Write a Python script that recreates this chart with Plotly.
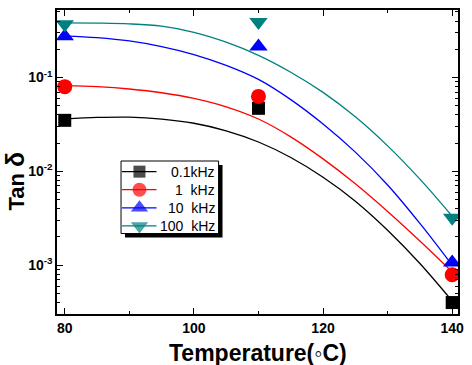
import plotly.graph_objects as go

# ---- data ----
temps = [80, 110, 140]
tan_01k = [0.035, 0.047, 0.00040]
tan_1k = [0.080, 0.063, 0.00079]
tan_10k = [0.275, 0.214, 0.00107]
tan_100k = [0.37, 0.39, 0.0032]

# fitted curves (log10 tan delta) sampled every 5 degC
curve_t = [80, 85, 90, 95, 100, 105, 110, 115, 120, 125, 130, 135, 140]
curve_01k = [-1.44, -1.425, -1.422, -1.442, -1.487, -1.567, -1.687, -1.852, -2.062, -2.317, -2.627, -2.982, -3.382]
curve_1k = [-1.085, -1.097, -1.122, -1.162, -1.222, -1.312, -1.442, -1.632, -1.867, -2.132, -2.427, -2.742, -3.072]
curve_10k = [-0.555, -0.575, -0.61, -0.67, -0.755, -0.87, -1.02, -1.235, -1.495, -1.795, -2.145, -2.555, -3.00]
curve_100k = [-0.418, -0.42, -0.428, -0.453, -0.518, -0.623, -0.763, -0.943, -1.158, -1.418, -1.728, -2.083, -2.478]

labels = ["0.1kHz", "1\u00a0\u00a0kHz", "10\u00a0\u00a0kHz", "100\u00a0\u00a0kHz"]
x_ticks = [80, 100, 120, 140]
y_ticks = [1e-3, 1e-2, 1e-1]
y_ticktext = ["10<sup>-3</sup>", "10<sup>-2</sup>", "10<sup>-1</sup>"]

colors = ["#000000", "#ff0000", "#0000ff", "#008080"]
symbols = ["square", "circle", "triangle-up", "triangle-down"]
msizes = [13, 15, 16, 16]
leg_msizes = [12, 14, 15, 15]

series = [tan_01k, tan_1k, tan_10k, tan_100k]
curves = [curve_01k, curve_1k, curve_10k, curve_100k]

W, H = 472, 365
ML, MR, MT, MB = 57, 8, 8, 51
PW, PH = W - ML - MR, H - MT - MB


def px(xp):
    return (xp - ML) / PW


def py(yp):
    return (H - MB - yp) / PH


font_family = "Liberation Sans, Arial, sans-serif"

fig = go.Figure()
for col, sym, ms, ys, cv in zip(colors, symbols, msizes, series, curves):
    fig.add_trace(go.Scatter(
        x=curve_t, y=[10 ** v for v in cv], mode="lines",
        line=dict(color=col, width=1.3, shape="spline", smoothing=1),
        showlegend=False, hoverinfo="skip"))
    fig.add_trace(go.Scatter(
        x=temps, y=ys, mode="markers",
        marker=dict(symbol=sym, size=ms, color=col, line=dict(width=0)),
        showlegend=False))

# ---- hand-made legend (box with drop shadow) ----
box_l, box_r, box_t, box_b = 122, 221, 160, 233
row_y0, row_dy = 170.7, 18.2
line_l, line_r, mark_x, text_r = 123, 158, 140.7, 219

shapes = [
    dict(type="rect", xref="paper", yref="paper", layer="below",
         x0=px(box_l + 4), x1=px(box_r + 4), y0=py(box_b + 4), y1=py(box_t + 4),
         fillcolor="black", line=dict(width=0)),
    dict(type="rect", xref="paper", yref="paper", layer="below",
         x0=px(box_l), x1=px(box_r), y0=py(box_b), y1=py(box_t),
         fillcolor="white", line=dict(color="black", width=1)),
]
annotations = []
for i, (lab, col, sym, ms) in enumerate(zip(labels, colors, symbols, leg_msizes)):
    yy = py(row_y0 + i * row_dy)
    fig.add_trace(go.Scatter(
        x=[px(line_l), px(mark_x), px(line_r)], y=[yy, yy, yy],
        xaxis="x2", yaxis="y2", mode="lines+markers",
        line=dict(color=col, width=1.3),
        marker=dict(symbol=sym, size=[0, ms, 0], color=col, line=dict(width=0)),
        showlegend=False, hoverinfo="skip", cliponaxis=False))
    annotations.append(dict(
        x=px(text_r), y=yy, xref="paper", yref="paper", text=lab, showarrow=False,
        xanchor="right", yanchor="middle",
        font=dict(size=14, family=font_family, color="black")))

# axis titles
annotations.append(dict(
    x=px(261), y=py(353), xref="paper", yref="paper", showarrow=False,
    text="Temperature(\u25e6C)", xanchor="center", yanchor="middle",
    font=dict(size=23, family=font_family, color="black", weight="bold")))
annotations.append(dict(
    x=px(14), y=py(180), xref="paper", yref="paper", showarrow=False,
    text="Tan <span style='font-size:25px'>\u03b4</span>", textangle=-90,
    xanchor="center", yanchor="middle",
    font=dict(size=22, family=font_family, color="black", weight="bold")))

fig.update_layout(
    width=W, height=H,
    margin=dict(l=ML, r=MR, t=MT, b=MB),
    paper_bgcolor="white", plot_bgcolor="white",
    font=dict(family=font_family, color="black"),
    showlegend=False,
    shapes=shapes, annotations=annotations,
    xaxis2=dict(overlaying="x", range=[0, 1], visible=False, fixedrange=True),
    yaxis2=dict(overlaying="y", range=[0, 1], visible=False, fixedrange=True),
)

fig.layout.xaxis.update(
    range=[78.8, 140.9], showgrid=False, zeroline=False,
    showline=True, linecolor="black", linewidth=1.5, mirror="allticks",
    tickmode="array", tickvals=x_ticks,
    ticks="inside", ticklen=6, tickwidth=1.2, tickcolor="black",
    minor=dict(tickvals=[90, 110, 130], ticks="inside", ticklen=3, tickwidth=1, tickcolor="black", showgrid=False),
    tickfont=dict(size=14, family=font_family, weight="bold"),
)

minor_y = [m * 10 ** e for e in (-4, -3, -2, -1) for m in range(2, 10) if 3e-4 <= m * 10 ** e <= 0.6]
fig.layout.yaxis.update(
    type="log", range=[-3.52, -0.28], showgrid=False, zeroline=False,
    showline=True, linecolor="black", linewidth=1.5, mirror="allticks",
    tickmode="array", tickvals=y_ticks, ticktext=y_ticktext,
    ticks="inside", ticklen=6, tickwidth=1.2, tickcolor="black",
    minor=dict(tickvals=minor_y, ticks="inside", ticklen=3, tickwidth=1, tickcolor="black", showgrid=False),
    tickfont=dict(size=14, family=font_family, weight="bold"),
)

fig.write_html("out.html")
